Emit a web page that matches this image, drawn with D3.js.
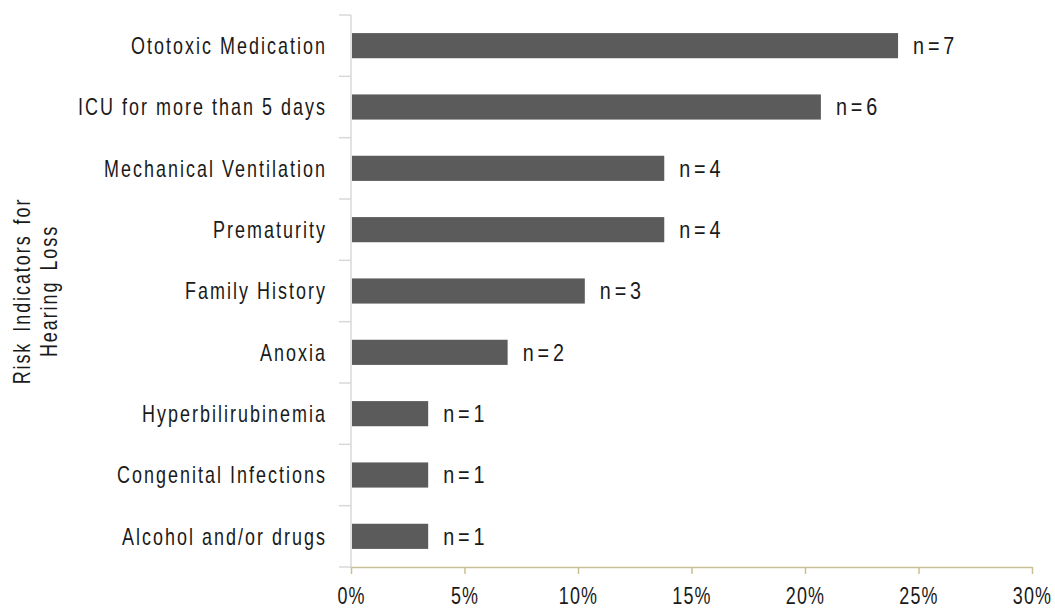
<!DOCTYPE html>
<html>
<head>
<meta charset="utf-8">
<script src="https://cdn.jsdelivr.net/npm/d3@7"></script>
<style>
  html, body { margin: 0; padding: 0; background: #ffffff; }
  svg text { font-family: "Liberation Sans", Arial, sans-serif; fill: #1a1a1a; }
</style>
</head>
<body>
<svg id="chart" width="1055" height="612"></svg>
<script>
const categories = [
  "Ototoxic Medication",
  "ICU for more than 5 days",
  "Mechanical Ventilation",
  "Prematurity",
  "Family History",
  "Anoxia",
  "Hyperbilirubinemia",
  "Congenital Infections",
  "Alcohol and/or drugs"
];
const percentValues = [24.1, 20.7, 13.8, 13.8, 10.3, 6.9, 3.4, 3.4, 3.4];
const countLabels = ["n=7", "n=6", "n=4", "n=4", "n=3", "n=2", "n=1", "n=1", "n=1"];
const xTickValues = [0, 5, 10, 15, 20, 25, 30];
const yAxisTitle = ["Risk Indicators for", "Hearing Loss"];

const svg = d3.select("#chart");
const margin = { left: 351, right: 23, top: 15, bottom: 45 };
const W = 1055, H = 612;
const SX = 0.78;           // horizontal condensing of the text
const fontSize = 23;

const x = d3.scaleLinear().domain([0, 30]).range([margin.left, W - margin.right]);
const y = d3.scaleBand().domain(categories).range([margin.top, H - margin.bottom]).paddingInner(0.59).paddingOuter(0.295);

// Bars
svg.append("g").selectAll("rect")
  .data(categories)
  .join("rect")
  .attr("x", x(0) + 1)
  .attr("y", d => y(d))
  .attr("width", (d, i) => x(percentValues[i]) - x(0) - 1)
  .attr("height", y.bandwidth())
  .attr("fill", "#5b5b5b");

// Count labels
svg.append("g").selectAll("text")
  .data(categories)
  .join("text")
  .attr("transform", (d, i) => `translate(${x(percentValues[i]) + 15},${y(d) + y.bandwidth() / 2}) scale(0.86,1)`)
  .attr("dy", "0.36em")
  .style("font-size", fontSize + "px")
  .style("letter-spacing", "4.5px")
  .text((d, i) => countLabels[i]);

// Y axis (light gray) with ticks at band boundaries
const yAxisG = svg.append("g");
const step = y.step();
const boundaries = d3.range(categories.length + 1).map(i => margin.top + i * step);
yAxisG.append("line")
  .attr("x1", x(0)).attr("x2", x(0))
  .attr("y1", margin.top).attr("y2", H - margin.bottom)
  .attr("stroke", "#d9d9d9").attr("stroke-width", 1.5);
yAxisG.selectAll("line.tick")
  .data(boundaries)
  .join("line")
  .attr("class", "tick")
  .attr("x1", x(0) - 12).attr("x2", x(0))
  .attr("y1", d => d).attr("y2", d => d)
  .attr("stroke", "#d9d9d9").attr("stroke-width", 1.5);

// Category labels
svg.append("g").selectAll("text")
  .data(categories)
  .join("text")
  .attr("transform", d => `translate(${x(0) - 24},${y(d) + y.bandwidth() / 2}) scale(${SX},1)`)
  .attr("dy", "0.36em")
  .attr("text-anchor", "end")
  .style("font-size", fontSize + "px")
  .style("letter-spacing", "2.6px")
  .text(d => d);

// X axis
const xAxis = d3.axisBottom(x)
  .tickValues(xTickValues)
  .tickFormat(d => d + "%")
  .tickSizeInner(7)
  .tickSizeOuter(0)
  .tickPadding(14);
const xg = svg.append("g")
  .attr("transform", `translate(0,${H - margin.bottom})`)
  .call(xAxis);
xg.select(".domain").attr("stroke", "#c9c194").attr("stroke-width", 1.5);
xg.selectAll(".tick line").attr("stroke", "#c9c194").attr("stroke-width", 1.5);
xg.selectAll(".tick text")
  .attr("transform", `scale(${SX},1)`)
  .style("font-size", fontSize + "px")
  .style("font-family", "'Liberation Sans', Arial, sans-serif")
  .style("letter-spacing", "1.5px")
  .attr("fill", "#1a1a1a");

// Y axis title (two lines, rotated)
const cy = (margin.top + H - margin.bottom) / 2;
svg.append("g").selectAll("text")
  .data(yAxisTitle)
  .join("text")
  .attr("transform", (d, i) => `translate(${22 + i * 27},${cy}) rotate(-90) scale(${SX},1)`)
  .attr("text-anchor", "middle")
  .attr("dy", "0.36em")
  .style("font-size", fontSize + "px")
  .style("letter-spacing", "2.5px")
  .style("word-spacing", "4px")
  .text(d => d);
</script>
</body>
</html>
